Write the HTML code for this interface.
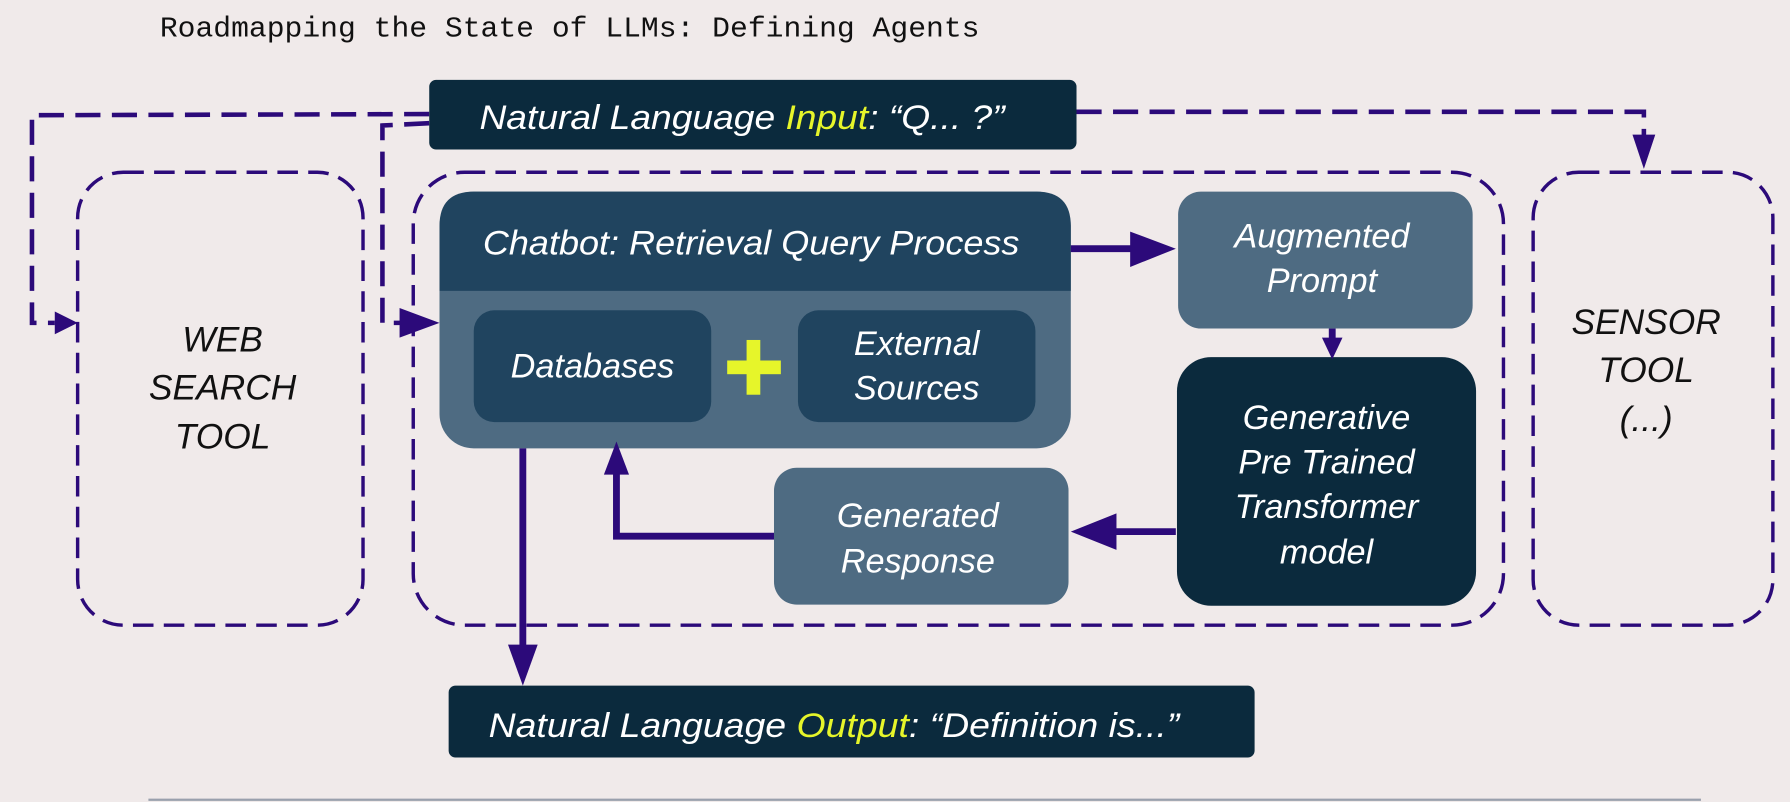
<!DOCTYPE html>
<html><head><meta charset="utf-8"><style>
html,body{margin:0;padding:0;background:#f0eaea;}
svg{display:block;}
text{font-family:"Liberation Sans",sans-serif;font-style:italic;}
.w{fill:#fff;font-size:30px;}
.b{fill:#111;font-size:31px;}
</style></head><body>
<svg width="1790" height="802" viewBox="0 0 1568 703" preserveAspectRatio="none" xmlns="http://www.w3.org/2000/svg">
<rect width="1568" height="703" fill="#f0eaea"/>
<text x="140" y="32" style="font-family:'Liberation Mono',monospace;font-style:normal;font-size:25px;fill:#111" textLength="718" lengthAdjust="spacingAndGlyphs">Roadmapping the State of LLMs: Defining Agents</text>

<g fill="none" stroke="#2c0a7a" stroke-width="4" stroke-dasharray="22 10">
<path d="M376,100 L28,101 L28,283 L48,283"/>
<path d="M376,108 L335,110 L335,283 L360,283"/>
<path d="M943,98 L1440,98 L1440,125"/>
</g>
<path d="M48,273 L68,283 L48,293 z" fill="#2c0a7a"/>
<path d="M350,270 L385,283 L350,296 z" fill="#2c0a7a"/>
<path d="M1430,118 L1440,148 L1450,118 z" fill="#2c0a7a"/>

<g fill="none" stroke="#2c0a7a" stroke-width="3" stroke-dasharray="18 9">
<rect x="68" y="151" width="250" height="397" rx="40"/>
<rect x="362" y="151" width="955" height="397" rx="45"/>
<rect x="1343" y="151" width="210" height="397" rx="40"/>
</g>

<rect x="376" y="70" width="567" height="61" rx="6" fill="#0b2a3d"/>
<text class="w" x="420" y="113" textLength="460" lengthAdjust="spacingAndGlyphs">Natural Language <tspan fill="#e6f52a">Input</tspan>: “Q... ?”</text>

<text class="b" x="195" y="308" text-anchor="middle">WEB</text>
<text class="b" x="195" y="350" text-anchor="middle">SEARCH</text>
<text class="b" x="195" y="393" text-anchor="middle">TOOL</text>
<text class="b" x="1442" y="293" text-anchor="middle">SENSOR</text>
<text class="b" x="1442" y="335" text-anchor="middle">TOOL</text>
<text class="b" x="1442" y="378" text-anchor="middle">(...)</text>

<rect x="385" y="168" width="553" height="225" rx="30" fill="#4e6b82"/>
<path d="M385,255 L385,198 Q385,168 415,168 L908,168 Q938,168 938,198 L938,255 z" fill="#20445f"/>
<text class="w" x="423" y="223" textLength="470" lengthAdjust="spacingAndGlyphs">Chatbot: Retrieval Query Process</text>
<rect x="415" y="272" width="208" height="98" rx="18" fill="#20445f"/>
<text class="w" x="519" y="331" text-anchor="middle">Databases</text>
<rect x="699" y="272" width="208" height="98" rx="18" fill="#20445f"/>
<text class="w" x="803" y="311" text-anchor="middle">External</text>
<text class="w" x="803" y="350" text-anchor="middle">Sources</text>
<rect x="654" y="298" width="12" height="48" fill="#e6f52a"/>
<rect x="637" y="316" width="47" height="12" fill="#e6f52a"/>

<rect x="1032" y="168" width="258" height="120" rx="20" fill="#4e6b82"/>
<text class="w" x="1158" y="217" text-anchor="middle">Augmented</text>
<text class="w" x="1158" y="256" text-anchor="middle">Prompt</text>

<rect x="1031" y="313" width="262" height="218" rx="30" fill="#0b2a3d"/>
<text class="w" x="1162" y="376" text-anchor="middle">Generative</text>
<text class="w" x="1162" y="415" text-anchor="middle">Pre Trained</text>
<text class="w" x="1162" y="454" text-anchor="middle">Transformer</text>
<text class="w" x="1162" y="494" text-anchor="middle">model</text>

<rect x="678" y="410" width="258" height="120" rx="20" fill="#4e6b82"/>
<text class="w" x="804" y="462" text-anchor="middle">Generated</text>
<text class="w" x="804" y="502" text-anchor="middle">Response</text>

<g fill="none" stroke="#2c0a7a" stroke-width="6">
<path d="M938,218 L995,218"/>
<path d="M1167,288 L1167,300"/>
<path d="M1030,466 L975,466"/>
<path d="M678,470 L540,470 L540,410"/>
<path d="M458,393 L458,570"/>
</g>
<g fill="#2c0a7a">
<path d="M990,203 L1030,218 L990,234 z"/>
<path d="M1158,296 L1167,315 L1176,296 z"/>
<path d="M978,450 L938,466 L978,482 z"/>
<path d="M529,416 L540,387 L551,416 z"/>
<path d="M445,565 L458,601 L471,565 z"/>
</g>

<rect x="393" y="601" width="706" height="63" rx="6" fill="#0b2a3d"/>
<text class="w" x="428" y="646" textLength="605" lengthAdjust="spacingAndGlyphs">Natural Language <tspan fill="#e6f52a">Output</tspan>: “Definition is...”</text>

<line x1="130" y1="701" x2="1490" y2="701" stroke="#9aa0ad" stroke-width="2"/>
</svg>
</body></html>
